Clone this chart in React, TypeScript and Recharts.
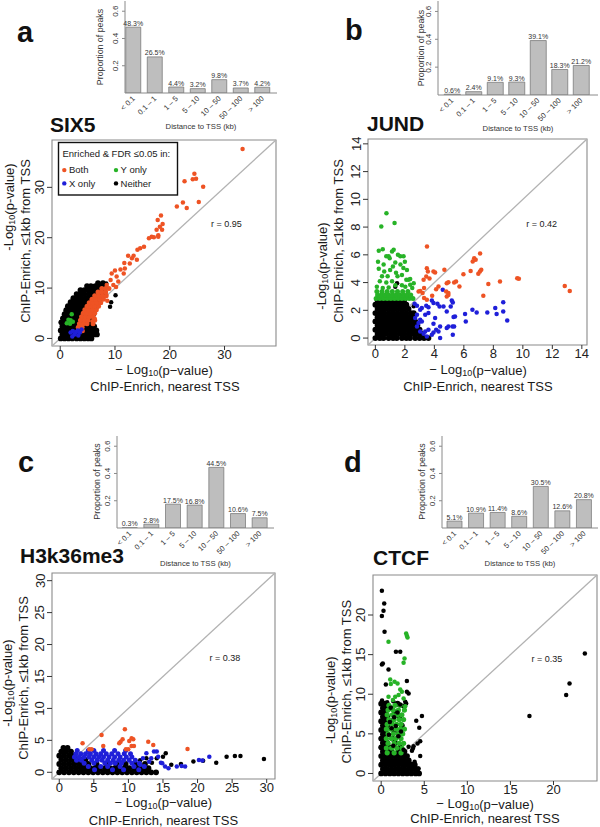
import React from "react";
import {
  Bar,
  BarChart,
  LabelList,
  ReferenceArea,
  ReferenceLine,
  Scatter,
  ScatterChart,
  XAxis,
  YAxis,
} from "recharts";

const FONT = "'Liberation Sans', Arial, Helvetica, sans-serif";

// ---- distance-to-TSS histograms (percent of peaks in each bin) ----
const distanceBins = ["< 0.1", "0.1 – 1", "1 – 5", "5 – 10", "10 – 50", "50 – 100", "> 100"];
const six5Pct = [48.3, 26.5, 4.4, 3.2, 9.8, 3.7, 4.2];
const jundPct = [0.6, 2.4, 9.1, 9.3, 39.1, 18.3, 21.2];
const h3k36me3Pct = [0.3, 2.8, 17.5, 16.8, 44.5, 10.6, 7.5];
const ctcfPct = [5.1, 10.9, 11.4, 8.6, 30.5, 12.6, 20.8];
const propTicks = [0.2, 0.4, 0.6];
const PROP_MAX = 0.675;

// ---- scatter: -log10 p, nearest TSS (x) vs <=1kb from TSS (y) ----
type Pt = [number, number];
type Rows = [number, number[]][]; // dense clouds, read row by row: [y, xs]

const six5Neither: Rows = [
  [0.0, [0.1, 0.8, 1.5, 2.2, 3.0, 3.7, 4.4, 5.1, 5.7]],
  [0.8, [0.4, 1.1, 1.9, 2.6, 3.4, 4.1, 4.8, 5.5, 6.2, 6.7]],
  [1.6, [0.1, 0.8, 1.6, 2.3, 3.1, 3.8, 4.5, 5.2, 5.9, 6.6]],
  [2.4, [0.4, 1.1, 1.9, 2.6, 3.4, 4.2, 4.9, 5.6, 6.2]],
  [3.2, [0.2, 0.9, 1.7, 2.5, 3.2, 4.0, 4.7, 5.4]],
  [4.0, [0.5, 1.2, 2.0, 2.7, 3.5, 4.3, 5.0, 5.7]],
  [4.8, [0.8, 1.5, 2.3, 3.0, 3.8, 4.5, 5.3, 6.0]],
  [5.6, [1.1, 1.8, 2.6, 3.3, 4.1, 4.8, 5.6, 6.3]],
  [6.4, [1.4, 2.1, 2.9, 3.6, 4.4, 5.1, 5.9, 6.6]],
  [7.2, [1.9, 2.6, 3.3, 4.1, 4.8, 5.6, 6.4, 7.1]],
  [8.0, [2.4, 3.1, 3.8, 4.6, 5.3, 6.1, 6.9, 7.6]],
  [8.8, [3.0, 3.7, 4.4, 5.2, 5.9, 6.7, 7.5, 8.1]],
  [9.6, [3.7, 4.4, 5.1, 5.8, 6.6, 7.3, 8.0]],
  [10.4, [4.9, 5.6, 6.4, 7.2, 7.9]],
  [11.0, [6.9, 7.8]],
];
const six5NeitherSpread: Pt[] = [[9.1, 6.3], [10.1, 8.6], [9.3, 7.2], [8.4, 10.9]];
const six5BothBand: Rows = [
  [2.2, [3.3, 4.0]],
  [2.9, [3.5, 4.2, 4.9, 6.0]],
  [3.6, [3.7, 4.4, 5.1, 6.3]],
  [4.3, [3.9, 4.6, 5.3, 6.0]],
  [5.0, [4.2, 4.9, 5.6, 6.3]],
  [5.7, [4.5, 5.2, 5.9, 6.6]],
  [6.4, [4.9, 5.6, 6.3, 7.0]],
  [7.1, [5.3, 6.0, 6.7, 7.4]],
  [7.8, [5.8, 6.5, 7.2, 7.9]],
  [8.5, [6.3, 7.0, 7.7, 8.4]],
  [9.2, [6.9, 7.6, 8.3]],
  [9.9, [7.6, 8.3, 8.9]],
];
const six5BothSpread: Pt[] = [
  [33.3, 37.6], [24.5, 32.7], [24.8, 31.7], [24.2, 31.6], [22.7, 31.2], [26.1, 30.1],
  [21.3, 26.2], [22.4, 27.0], [23.1, 25.9], [25.3, 27.1], [18.4, 24.4], [17.8, 23.5],
  [18.7, 22.7], [18.2, 22.2], [17.6, 21.6], [18.6, 21.6], [17.9, 20.5], [17.1, 20.1],
  [16.2, 19.9], [16.7, 20.2], [17.9, 20.2], [15.3, 18.2], [14.6, 17.9], [14.1, 17.6],
  [12.4, 16.4], [13.4, 16.4], [14.0, 15.6], [13.1, 15.9], [11.7, 15.0], [12.7, 14.9],
  [11.0, 13.7], [11.8, 13.9], [10.0, 13.5], [9.4, 12.9], [10.3, 12.3], [11.6, 12.9],
  [10.6, 11.3], [8.5, 10.6], [9.7, 10.6], [9.2, 11.6], [10.2, 10.2], [8.6, 7.5],
  [5.9, 3.4], [6.3, 3.9], [4.1, 1.5],
];
const six5YOnly: Pt[] = [[2.1, 4.8], [1.2, 3.0], [1.8, 2.9], [1.5, 3.7], [2.3, 3.3], [1.9, 3.6]];
const six5XOnly: Pt[] = [
  [1.9, 1.2], [2.3, 1.5], [2.6, 0.8], [2.9, 1.3], [3.2, 1.6], [3.3, 0.6], [2.2, 0.4], [3.9, 1.8], [3.6, 1.2],
];

const jundNeither: Rows = [
  [0.0, [0.0, 0.3, 0.55, 0.9, 1.2, 1.45, 1.8, 2.1, 2.35, 2.7, 3.0, 3.3, 3.6]],
  [0.3, [0.15, 0.45, 0.75, 1.05, 1.35, 1.65, 1.95, 2.25, 2.55, 2.85, 3.15]],
  [0.6, [0.0, 0.3, 0.6, 0.9, 1.2, 1.5, 1.8, 2.1, 2.4, 2.7, 3.0]],
  [0.9, [0.15, 0.45, 0.75, 1.05, 1.35, 1.65, 1.95, 2.25, 2.55, 2.85]],
  [1.2, [0.0, 0.3, 0.6, 0.9, 1.2, 1.5, 1.8, 2.1, 2.4, 2.7]],
  [1.5, [0.15, 0.45, 0.75, 1.05, 1.35, 1.65, 1.95, 2.25, 2.55]],
  [1.8, [0.0, 0.3, 0.6, 0.9, 1.2, 1.5, 1.8, 2.1, 2.4, 2.6]],
  [2.1, [0.15, 0.45, 0.75, 1.05, 1.35, 1.65, 1.95, 2.25]],
  [2.4, [0.0, 0.3, 0.6, 0.9, 1.2, 1.5, 1.8, 2.1]],
  [2.7, [0.15, 0.45, 0.75, 1.05, 1.35, 1.65, 1.95]],
];
const jundNeitherSpread: Pt[] = [[1.47, 3.96], [1.35, 3.7], [2.6, 2.3]];
const jundYOnlyBand: Rows = [
  [2.85, [0.05, 0.3, 0.55, 0.8, 1.05, 1.3, 1.55, 1.8, 2.05, 2.3, 2.55]],
  [3.1, [0.15, 0.4, 0.65, 0.9, 1.15, 1.4, 1.65, 1.9, 2.15, 2.4]],
  [3.35, [0.1, 0.45, 0.8, 1.15, 1.5, 1.85, 2.2]],
];
const jundYOnlySpread: Pt[] = [
  [0.75, 9.0], [0.4, 8.05], [1.3, 8.3], [0.5, 6.4], [0.23, 6.3], [1.13, 6.24], [1.24, 6.36],
  [0.18, 5.5], [0.74, 5.9], [0.9, 5.9], [0.97, 5.75], [1.53, 6.0], [1.69, 5.9], [1.91, 5.9],
  [2.0, 5.5], [1.7, 5.3], [0.56, 5.3], [0.23, 5.0], [1.35, 5.45], [1.19, 5.15], [0.6, 4.8],
  [1.0, 4.9], [0.83, 4.45], [1.4, 4.7], [1.5, 4.45], [1.8, 4.55], [2.14, 4.9], [1.9, 5.05],
  [0.45, 4.45], [0.3, 4.1], [0.74, 4.0], [1.13, 4.1], [1.35, 3.8], [2.1, 4.2], [2.25, 4.2],
  [2.36, 4.25], [1.8, 3.8], [2.03, 3.7], [2.36, 3.85], [2.6, 3.95], [0.1, 3.7], [0.5, 3.6],
  [0.9, 3.65], [2.5, 3.6],
];
const jundBoth: Pt[] = [
  [3.5, 6.6], [7.1, 6.1], [6.7, 5.76], [6.8, 5.64], [6.6, 5.52], [7.18, 4.92], [7.09, 4.8],
  [6.46, 4.84], [5.97, 4.6], [6.98, 4.63], [3.49, 5.04], [3.56, 4.8], [3.94, 4.8], [4.05, 4.72],
  [4.68, 4.92], [3.45, 4.44], [3.27, 4.2], [3.67, 4.3], [4.84, 3.96], [4.95, 4.03], [5.34, 4.0],
  [5.47, 4.08], [5.7, 3.72], [4.28, 3.72], [2.93, 3.36], [3.04, 3.4], [3.3, 3.6], [3.2, 3.24],
  [4.12, 3.52], [4.8, 3.36], [4.95, 3.24], [3.85, 3.05], [3.49, 2.76], [3.3, 2.88], [7.32, 3.05],
  [7.66, 3.9], [8.45, 4.08], [9.62, 4.32], [9.73, 4.27], [12.84, 3.76], [13.18, 3.4],
  [4.84, 3.0], [4.95, 3.1],
];
const jundXOnly: Pt[] = [
  [4.57, 3.48], [5.18, 2.71], [5.25, 2.57], [5.11, 2.28], [8.67, 2.59], [8.67, 1.92], [8.13, 2.16],
  [8.22, 1.73], [7.59, 1.85], [6.58, 2.04], [6.87, 1.85], [6.08, 1.73], [6.13, 1.2], [8.94, 1.27],
  [5.4, 1.56], [5.3, 1.51], [4.84, 1.92], [4.62, 2.28], [4.35, 2.28], [4.21, 2.47], [3.94, 2.52],
  [3.83, 2.71], [3.45, 2.33], [3.6, 2.23], [3.15, 2.16], [3.04, 2.04], [2.82, 2.33], [2.66, 2.47],
  [3.38, 1.68], [3.6, 1.8], [3.04, 1.32], [3.15, 1.2], [4.05, 1.44], [3.94, 1.03], [4.39, 0.84],
  [4.28, 0.48], [4.12, 0.6], [3.94, 0.41], [3.83, 0.24], [3.49, 0.12], [3.27, 0.31], [3.04, 0.48],
  [4.39, 0.0], [4.84, 0.72], [4.95, 0.84], [5.23, 0.84], [5.34, 0.84], [5.25, 0.24], [2.82, 1.68],
  [2.7, 1.44], [2.93, 1.08], [2.82, 0.84], [3.6, 0.6], [3.38, 0.48],
];

const h3Neither: Rows = [
  [0.0, [0.0, 0.7, 1.4, 2.1, 2.8, 3.5, 4.2, 4.9, 5.6, 6.3, 7.0, 7.7, 8.4, 9.1, 9.8, 10.5, 11.2, 11.9, 12.6, 13.3, 14.0]],
  [0.65, [0.3, 1.0, 1.7, 2.4, 3.1, 3.8, 4.5, 5.2, 5.9, 6.6, 7.3, 8.0, 8.7, 9.4, 10.1, 10.8, 11.5, 12.2, 12.9]],
  [1.3, [0.0, 0.7, 1.4, 2.1, 2.8, 3.5, 4.2, 5.4, 6.9, 8.3, 9.6, 11.0, 12.4]],
  [1.95, [0.3, 1.0, 1.7, 2.4, 3.1, 3.8]],
  [2.6, [0.0, 0.7, 1.4, 2.1]],
  [3.25, [0.3, 1.0, 1.7]],
  [3.8, [0.6, 1.2]],
];
const h3NeitherSpread: Pt[] = [
  [15.4, 3.0], [15.0, 2.45], [14.1, 2.2], [11.7, 1.9], [12.6, 2.2], [13.4, 1.5], [16.2, 1.2],
  [17.6, 1.3], [19.4, 1.7], [20.8, 1.8], [22.7, 1.5], [24.2, 2.45], [25.4, 2.55], [26.2, 2.55],
  [29.6, 2.1],
];
const h3XOnlyBand: Rows = [
  [3.4, [2.6, 4.2, 5.0, 6.4, 8.0, 9.6]],
  [2.9, [2.4, 3.1, 3.8, 4.5, 5.3, 6.0, 6.8, 7.6, 8.5, 9.4, 10.3]],
  [2.4, [2.2, 2.9, 3.6, 4.3, 5.0, 5.7, 6.4, 7.2, 8.0, 8.8, 9.7, 10.5]],
  [1.9, [2.5, 3.2, 4.7, 5.5, 6.2, 7.0, 7.8, 8.6, 9.3, 10.1, 11.0]],
  [1.4, [3.6, 5.0, 6.6, 7.4, 8.1, 9.0, 10.5, 11.6]],
  [0.9, [4.2, 6.0, 7.0, 8.8, 10.8, 12.3]],
  [0.4, [5.1, 7.7, 9.3, 11.5]],
];
const h3XOnlySpread: Pt[] = [
  [12.6, 2.97], [12.1, 2.19], [13.0, 1.67], [13.3, 2.19], [13.7, 3.24], [14.1, 3.24], [14.3, 2.45],
  [14.7, 1.51], [14.9, 1.41], [15.3, 0.89], [15.8, 0.63], [17.0, 0.89], [17.7, 0.99], [18.2, 0.89],
  [20.2, 1.93], [20.7, 1.83], [21.7, 2.45], [11.7, 1.2],
];
const h3Both: Pt[] = [
  [9.49, 6.73], [6.12, 5.85], [10.46, 5.32], [10.7, 5.17], [10.12, 4.9], [8.87, 4.8], [8.67, 4.54],
  [9.16, 5.17], [3.37, 4.54], [12.87, 4.8], [13.59, 4.28], [6.36, 4.12], [10.46, 4.12], [10.8, 4.12],
  [9.64, 3.6], [9.98, 3.6], [18.55, 3.65], [4.34, 3.6], [4.67, 3.6],
];

const ctcfNeither: Rows = [
  [0.0, [0.0, 0.5, 1.0, 1.5, 2.0, 2.5, 3.0, 3.5, 4.0, 4.4]],
  [0.55, [0.2, 0.7, 1.2, 1.7, 2.2, 2.7, 3.2, 3.7, 4.2]],
  [1.1, [0.0, 0.5, 1.0, 1.5, 2.0, 2.5, 3.0, 3.5, 3.9]],
  [1.65, [0.2, 0.7, 1.2, 1.7, 2.2, 2.7, 3.2]],
  [2.2, [0.0, 0.5, 1.0, 1.5, 2.0, 2.5, 3.0]],
  [2.75, [0.2, 0.7, 1.2, 2.0, 2.7]],
  [3.3, [0.0, 0.5, 1.0, 2.2]],
  [3.85, [0.2, 0.7, 1.6]],
  [4.4, [0.0, 0.5, 1.3]],
  [4.95, [0.2, 0.7, 2.0]],
  [5.5, [0.0, 0.5, 1.5]],
  [6.05, [0.2, 0.7, 2.4]],
  [6.6, [0.0, 0.5, 1.2]],
  [7.15, [0.2, 0.7, 2.1]],
  [7.7, [0.0, 0.5, 1.6]],
  [8.25, [0.2, 0.7, 1.1]],
  [8.8, [0.0, 0.5, 1.9]],
];
const ctcfNeitherSpread: Pt[] = [
  [0.08, 23.06], [0.35, 21.46], [0.27, 20.54], [0.08, 19.87], [0.39, 17.89], [1.71, 15.36],
  [2.21, 15.36], [0.19, 13.89], [0.08, 13.76], [0.85, 13.13], [0.54, 11.24], [2.98, 11.66],
  [3.18, 10.1], [2.98, 10.31], [2.79, 9.05], [2.9, 8.84], [2.48, 8.54], [4.73, 7.24], [4.07, 6.65],
  [4.42, 5.77], [4.53, 4.08], [4.22, 3.79], [3.76, 3.45], [3.68, 3.16], [3.18, 3.37], [3.57, 2.86],
  [4.53, 2.19], [4.34, 0.63], [3.95, 0.63], [3.88, 1.47], [3.49, 1.18], [23.64, 15.15],
  [21.86, 11.36], [21.47, 9.89], [17.21, 7.24], [0.1, 9.2], [0.7, 9.0], [1.4, 9.1],
];
const ctcfNeitherOver: Pt[] = [
  [1.1, 8.3], [1.9, 7.7], [1.0, 6.5], [2.0, 4.7], [1.4, 3.5], [2.6, 3.0], [1.7, 6.0], [0.9, 4.9],
  [2.3, 5.3], [1.5, 7.1], [2.2, 8.7], [1.2, 5.7],
];
const ctcfYOnlyBand: Rows = [
  [8.6, [0.9, 1.6, 2.2]],
  [8.0, [0.8, 1.4, 2.0, 2.7]],
  [7.4, [0.7, 1.3, 1.9, 2.4]],
  [6.8, [0.9, 1.5, 2.1, 2.6]],
  [6.2, [0.7, 1.3, 1.8, 2.3]],
  [5.6, [0.6, 1.1, 1.7, 2.2, 2.7]],
  [5.0, [0.8, 1.4, 2.0, 2.5]],
  [4.4, [0.6, 1.2, 1.7, 2.3]],
  [3.8, [0.8, 1.5, 2.1, 2.6]],
  [3.2, [0.6, 1.2, 1.8, 2.4]],
  [2.6, [0.7, 1.5, 2.3]],
];
const ctcfYOnlySpread: Pt[] = [
  [2.9, 17.68], [2.98, 17.38], [3.06, 17.17], [0.85, 16.62], [2.71, 14.52], [2.6, 13.97],
  [1.05, 11.87], [1.55, 11.57], [1.9, 11.36], [1.12, 11.28], [2.21, 10.61], [2.4, 10.31],
  [2.02, 9.89], [1.63, 9.68], [2.6, 9.47], [1.36, 9.26], [0.85, 9.68], [2.67, 8.0], [2.79, 8.5],
];

const legendKeys = ["Both", "Y only", "X only", "Neither"];

const BOTH = "#ee5324";
const YONLY = "#27b327";
const XONLY = "#1f1fd9";
const NEITHER = "#000000";
const BOX = "#8a8a8a";

type XY = { x: number; y: number }[];
type Layer = { data: XY; color: string; r: number };

const toXY = (pts: Pt[]): XY => pts.map(([x, y]) => ({ x, y }));
const rowsToXY = (rows: Rows): XY => rows.flatMap(([y, xs]) => xs.map((x) => ({ x, y })));

const dot = (r: number, color: string) => (p: any) =>
  <circle cx={p.cx} cy={p.cy} r={r} fill={color} />;

const BinTick = (props: any) => {
  const { x, y, payload } = props;
  const ax = x + 2;
  const ay = y + 4;
  return (
    <text x={ax} y={ay} transform={`rotate(-45 ${ax} ${ay})`} textAnchor="end" fontSize={7.5} fill="#333" fontFamily={FONT}>
      {payload.value}
    </text>
  );
};

const PropTick = (props: any) => {
  const { x, y, payload } = props;
  return (
    <text x={x} y={y} transform={`rotate(-90 ${x} ${y})`} textAnchor="middle" fontSize={8} fill="#333" fontFamily={FONT}>
      {payload.value}
    </text>
  );
};

const PTickX = (props: any) => {
  const { x, y, payload } = props;
  return (
    <text x={x} y={y} dy="0.72em" textAnchor="middle" fontSize={13} fill="#222" fontFamily={FONT}>
      {payload.value}
    </text>
  );
};

const PTickY = (props: any) => {
  const { x, y, payload } = props;
  return (
    <text x={x} y={y} transform={`rotate(-90 ${x} ${y})`} textAnchor="middle" fontSize={13} fill="#222" fontFamily={FONT}>
      {payload.value}
    </text>
  );
};

type Box = { left: number; top: number; right: number; bottom: number };

function DistanceBars({ pct, box, padL, padR, barSize }: { pct: number[]; box: Box; padL: number; padR: number; barSize: number }) {
  const data = distanceBins.map((bin, i) => ({ bin, p: pct[i] / 100, pct: pct[i] }));
  const L = 28, R = 6, T = 4, B = 34;
  const w = box.right - box.left + L + R;
  const h = box.bottom - box.top + T + B;
  const pad = { left: padL, right: padR };
  return (
    <div style={{ position: "absolute", left: box.left - L, top: box.top - T }}>
      <BarChart width={w} height={h} data={data} margin={{ top: T, right: R, bottom: 0, left: 0 }}>
        <XAxis dataKey="bin" height={B} padding={pad} interval={0} axisLine={{ stroke: BOX }} tickLine={false} tickSize={0} tickMargin={2} tick={<BinTick />} />
        <XAxis xAxisId="top" orientation="top" dataKey="bin" height={0} padding={pad} tick={false} tickLine={false} axisLine={{ stroke: BOX }} />
        <YAxis domain={[0, PROP_MAX]} ticks={propTicks} allowDataOverflow width={L} axisLine={{ stroke: BOX }} tickSize={3} tickMargin={3.5} tickLine={{ stroke: BOX }} tick={<PropTick />} />
        <YAxis yAxisId="r" orientation="right" domain={[0, PROP_MAX]} ticks={propTicks} allowDataOverflow width={0} tick={false} tickSize={3} tickLine={{ stroke: BOX }} axisLine={{ stroke: BOX }} />
        <Bar dataKey="p" barSize={barSize} fill="#bebebe" stroke="#707070" strokeWidth={0.7} isAnimationActive={false}>
          <LabelList dataKey="pct" position="top" offset={1.5} formatter={(v: any) => `${v}%`} fontSize={7} fill="#333" fontFamily={FONT} />
        </Bar>
      </BarChart>
    </div>
  );
}

function PValueScatter({ plot, domain, ticks, layers }: { plot: Box; domain: [number, number]; ticks: number[]; layers: Layer[] }) {
  const L = 34, R = 4, T = 4, B = 26;
  const w = plot.right - plot.left + L + R;
  const h = plot.bottom - plot.top + T + B;
  const [lo, hi] = domain;
  return (
    <div style={{ position: "absolute", left: plot.left - L, top: plot.top - T }}>
      <ScatterChart width={w} height={h} margin={{ top: T, right: R, bottom: 0, left: 0 }}>
        <XAxis type="number" dataKey="x" domain={domain} ticks={ticks} allowDataOverflow interval={0} height={B} axisLine={false} tickSize={4} tickMargin={0} tickLine={{ stroke: "#333" }} tick={<PTickX />} />
        <YAxis type="number" dataKey="y" domain={domain} ticks={ticks} allowDataOverflow interval={0} width={L} axisLine={false} tickSize={5} tickMargin={2.5} tickLine={{ stroke: "#333" }} tick={<PTickY />} />
        <ReferenceArea x1={lo} x2={hi} y1={lo} y2={hi} fill="none" fillOpacity={0} stroke={BOX} strokeWidth={1.1} />
        {layers.map((l, i) => (
          <Scatter key={i} data={l.data} shape={dot(l.r, l.color)} isAnimationActive={false} />
        ))}
        <ReferenceLine segment={[{ x: lo, y: lo }, { x: hi, y: hi }]} stroke="#b2b2b2" strokeWidth={1.3} />
      </ScatterChart>
    </div>
  );
}

function LogLabel({ cx, cy, vertical }: { cx: number; cy: number; vertical?: boolean }) {
  return (
    <text x={cx} y={cy} transform={vertical ? `rotate(-90 ${cx} ${cy})` : undefined} textAnchor="middle" dominantBaseline="central" fontSize={13}>
      {vertical ? "-Log" : "\u2212 Log"}
      <tspan fontSize={9} dy={3.5}>10</tspan>
      <tspan dy={-3.5}>{vertical ? "(p-value)" : "(p\u2212value)"}</tspan>
    </text>
  );
}

function Overlay() {
  const legendColors = [BOTH, YONLY, XONLY, NEITHER];
  const legendPos = [[64.3, 173.3], [116, 173.3], [64.3, 186.6], [116, 186.6]];
  const yLab = "ChIP-Enrich, \u22641kb from TSS";
  const xLab = "ChIP-Enrich, nearest TSS";
  const rot = (x: number, y: number) => `rotate(-90 ${x} ${y})`;
  return (
    <svg width={600} height={827} style={{ position: "absolute", left: 0, top: 0, pointerEvents: "none" }} fontFamily={FONT} fill="#1a1a1a">
      {/* panel letters and titles */}
      <g fontWeight="bold" fontSize={29} fill="#111">
        <text x={17} y={42}>a</text>
        <text x={345} y={40}>b</text>
        <text x={18} y={472}>c</text>
        <text x={344} y={472}>d</text>
      </g>
      <g fontWeight="bold" fontSize={21} fill="#111">
        <text x={50} y={132}>SIX5</text>
        <text x={367} y={131}>JUND</text>
        <text x={20} y={563}>H3k36me3</text>
        <text x={373} y={565}>CTCF</text>
      </g>
      {/* histogram axis titles */}
      <g fontSize={8.8} textAnchor="middle" dominantBaseline="central" fill="#333">
        <text x={100} y={47} transform={rot(100, 47)}>Proportion of peaks</text>
        <text x={420.5} y={48} transform={rot(420.5, 48)}>Proportion of peaks</text>
        <text x={96.5} y={481.5} transform={rot(96.5, 481.5)}>Proportion of peaks</text>
        <text x={421.5} y={481.5} transform={rot(421.5, 481.5)}>Proportion of peaks</text>
      </g>
      <g fontSize={7.7} textAnchor="middle" dominantBaseline="central" fill="#333">
        <text x={201} y={126}>Distance to TSS (kb)</text>
        <text x={518} y={128}>Distance to TSS (kb)</text>
        <text x={195.5} y={563}>Distance to TSS (kb)</text>
        <text x={520} y={563}>Distance to TSS (kb)</text>
      </g>
      {/* scatter axis titles */}
      <LogLabel cx={8.5} cy={207} vertical />
      <LogLabel cx={321.7} cy={266} vertical />
      <LogLabel cx={7.3} cy={683} vertical />
      <LogLabel cx={330} cy={700} vertical />
      <g fontSize={13} textAnchor="middle" dominantBaseline="central">
        <text x={25} y={241} transform={rot(25, 241)}>{yLab}</text>
        <text x={338.3} y={241} transform={rot(338.3, 241)}>{yLab}</text>
        <text x={23.3} y={678} transform={rot(23.3, 678)}>{yLab}</text>
        <text x={346.7} y={681.7} transform={rot(346.7, 681.7)}>{yLab}</text>
        <text x={165} y={386}>{xLab}</text>
        <text x={478} y={386}>{xLab}</text>
        <text x={163.5} y={820}>{xLab}</text>
        <text x={485} y={818.5}>{xLab}</text>
      </g>
      <LogLabel cx={164} cy={369.5} />
      <LogLabel cx={478} cy={369.5} />
      <LogLabel cx={163.3} cy={802} />
      <LogLabel cx={485} cy={803.5} />
      {/* correlations */}
      <g fontSize={9} textAnchor="middle" dominantBaseline="central">
        <text x={226.5} y={224.3}>r = 0.95</text>
        <text x={541.7} y={224.3}>r = 0.42</text>
        <text x={225} y={658.3}>r = 0.38</text>
        <text x={547} y={659}>r = 0.35</text>
      </g>
      {/* legend (panel a) */}
      <g fontSize={9.5}>
        <rect x={58.5} y={142.5} width={119} height={52.5} fill="#fff" stroke="#111" strokeWidth={1.4} />
        <text x={62.5} y={156.5}>Enriched &amp; FDR {"\u2264"}0.05 in:</text>
        {legendKeys.map((k, i) => (
          <g key={k}>
            <circle cx={legendPos[i][0]} cy={legendPos[i][1] - 3.2} r={2.2} fill={legendColors[i]} />
            <text x={legendPos[i][0] + 4.6} y={legendPos[i][1]}>{k}</text>
          </g>
        ))}
      </g>
    </svg>
  );
}

const DENSE = 2.9;
const SPARSE = 2.25;

export default function App() {
  return (
    <div style={{ position: "absolute", left: 0, top: 0, width: 600, height: 827, background: "#fff", overflow: "hidden", fontFamily: FONT }}>
      <DistanceBars pct={six5Pct} box={{ left: 125, top: 1, right: 277, bottom: 93 }} padL={-2.25} padR={3.75} barSize={15} />
      <DistanceBars pct={jundPct} box={{ left: 438, top: 1, right: 598, bottom: 95 }} padL={3.25} padR={6.25} barSize={16} />
      <DistanceBars pct={h3k36me3Pct} box={{ left: 117, top: 436, right: 274, bottom: 528 }} padL={2.2} padR={3.2} barSize={15} />
      <DistanceBars pct={ctcfPct} box={{ left: 442, top: 436, right: 598, bottom: 528 }} padL={2} padR={3} barSize={15} />

      <PValueScatter
        plot={{ left: 52, top: 140, right: 276, bottom: 346 }}
        domain={[-1.5, 39.4]}
        ticks={[0, 10, 20, 30]}
        layers={[
          { data: rowsToXY(six5Neither), color: NEITHER, r: DENSE },
          { data: toXY(six5NeitherSpread), color: NEITHER, r: SPARSE },
          { data: rowsToXY(six5BothBand), color: BOTH, r: 2.5 },
          { data: toXY(six5BothSpread), color: BOTH, r: SPARSE },
          { data: toXY(six5XOnly), color: XONLY, r: SPARSE },
          { data: toXY(six5YOnly), color: YONLY, r: SPARSE },
        ]}
      />
      <PValueScatter
        plot={{ left: 368, top: 139, right: 587, bottom: 345 }}
        domain={[-0.5, 14.35]}
        ticks={[0, 2, 4, 6, 8, 10, 12, 14]}
        layers={[
          { data: rowsToXY(jundNeither), color: NEITHER, r: DENSE },
          { data: toXY(jundNeitherSpread), color: NEITHER, r: SPARSE },
          { data: toXY(jundXOnly), color: XONLY, r: SPARSE },
          { data: rowsToXY(jundYOnlyBand), color: YONLY, r: 2.5 },
          { data: toXY(jundYOnlySpread), color: YONLY, r: SPARSE },
          { data: toXY(jundBoth), color: BOTH, r: SPARSE },
        ]}
      />
      <PValueScatter
        plot={{ left: 52, top: 573, right: 275, bottom: 779 }}
        domain={[-1.05, 31.2]}
        ticks={[0, 5, 10, 15, 20, 25, 30]}
        layers={[
          { data: rowsToXY(h3Neither), color: NEITHER, r: DENSE },
          { data: toXY(h3NeitherSpread), color: NEITHER, r: SPARSE },
          { data: rowsToXY(h3XOnlyBand), color: XONLY, r: 2.5 },
          { data: toXY(h3XOnlySpread), color: XONLY, r: SPARSE },
          { data: toXY(h3Both), color: BOTH, r: SPARSE },
        ]}
      />
      <PValueScatter
        plot={{ left: 373, top: 575, right: 597, bottom: 781 }}
        domain={[-0.95, 25.05]}
        ticks={[0, 5, 10, 15, 20]}
        layers={[
          { data: rowsToXY(ctcfNeither), color: NEITHER, r: DENSE },
          { data: toXY(ctcfNeitherSpread), color: NEITHER, r: SPARSE },
          { data: rowsToXY(ctcfYOnlyBand), color: YONLY, r: 2.6 },
          { data: toXY(ctcfYOnlySpread), color: YONLY, r: SPARSE },
          { data: toXY(ctcfNeitherOver), color: NEITHER, r: SPARSE },
        ]}
      />

      <Overlay />
    </div>
  );
}
